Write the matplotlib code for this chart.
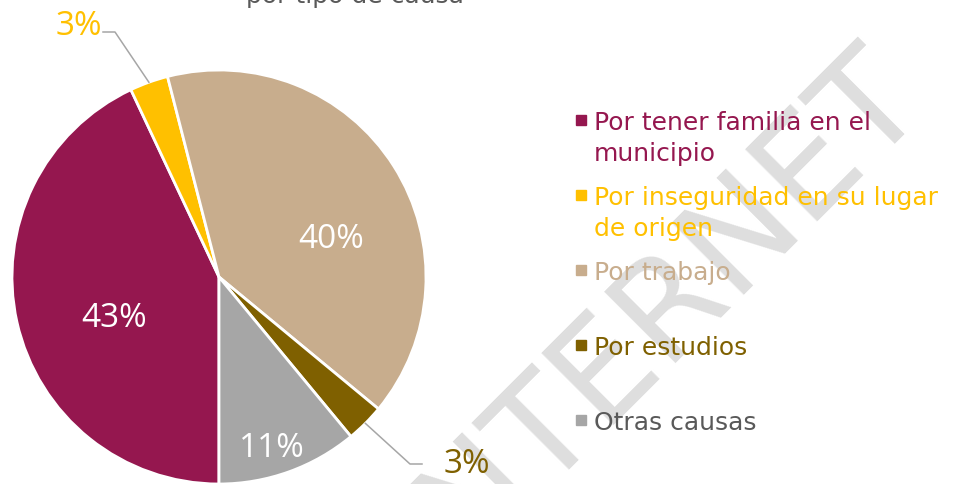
import numpy as np
import matplotlib.pyplot as plt

# datos del grafico
causas = ['Por tener familia en el\nmunicipio',
          'Por inseguridad en su lugar\nde origen',
          'Por trabajo',
          'Por estudios',
          'Otras causas']
porcentajes = [43, 3, 40, 3, 11]
colores = ['#95174f', '#ffc000', '#c8ad8d', '#7f6000', '#a6a6a6']
colores_texto = ['#95174f', '#ffc000', '#c8ad8d', '#7f6000', '#595959']
titulo = 'por tipo de causa'

W, H = 963, 485
fig = plt.figure(figsize=(W / 100, H / 100), dpi=100)
ax = fig.add_axes([0, 0, 1, 1])

# marca de agua
ax.text(655, H - 316, 'INTERNET', rotation=45, rotation_mode='anchor',
        ha='center', va='center', fontsize=100, color='#dedede', zorder=0)

cx, cy, r = 219, 207, 207
wedges, _ = ax.pie(porcentajes, colors=colores, startangle=270,
                   counterclock=False, center=(cx, cy), radius=r,
                   wedgeprops=dict(edgecolor='white', linewidth=2))
ax.set_xlim(0, W)
ax.set_ylim(0, H)
ax.set_aspect('auto')
ax.axis('off')

# etiquetas de porcentaje (posicion de la linea base)
pos_etiquetas = [(114, 158), (79, 450), (331, 237), (467, 12), (272, 28)]
color_etiq = ['white', '#ffc000', 'white', '#7f6000', 'white']
# lineas guia para las rebanadas pequenas
guias = {1: [(115, 452), (103, 452)], 3: [(410, 20), (422, 20)]}

for i, w in enumerate(wedges):
    x, y = pos_etiquetas[i]
    ax.text(x, y, f'{porcentajes[i]}%', ha='center', va='baseline',
            fontsize=24, family='Open Sans', color=color_etiq[i], zorder=4)
    if i in guias:
        ang = np.deg2rad((w.theta1 + w.theta2) / 2)
        px = [cx + r * np.cos(ang)] + [p[0] for p in guias[i]]
        py = [cy + r * np.sin(ang)] + [p[1] for p in guias[i]]
        ax.plot(px, py, color='#a6a6a6', lw=1.1, zorder=3)

# leyenda a mano
base_y = 130
for i, causa in enumerate(causas):
    yb = H - (base_y + 75 * i)
    ax.plot(580.5, yb + 9, marker='s', markersize=6.5, color=colores[i],
            linestyle='none', zorder=4)
    for j, linea in enumerate(causa.split('\n')):
        ax.text(594, yb - 31 * j, linea, ha='left', va='baseline',
                fontsize=18, color=colores_texto[i], zorder=4)

ax.text(355, H - 3, titulo, ha='center', va='baseline', fontsize=18,
        color='#595959')

fig.savefig('out.png', dpi=100)
